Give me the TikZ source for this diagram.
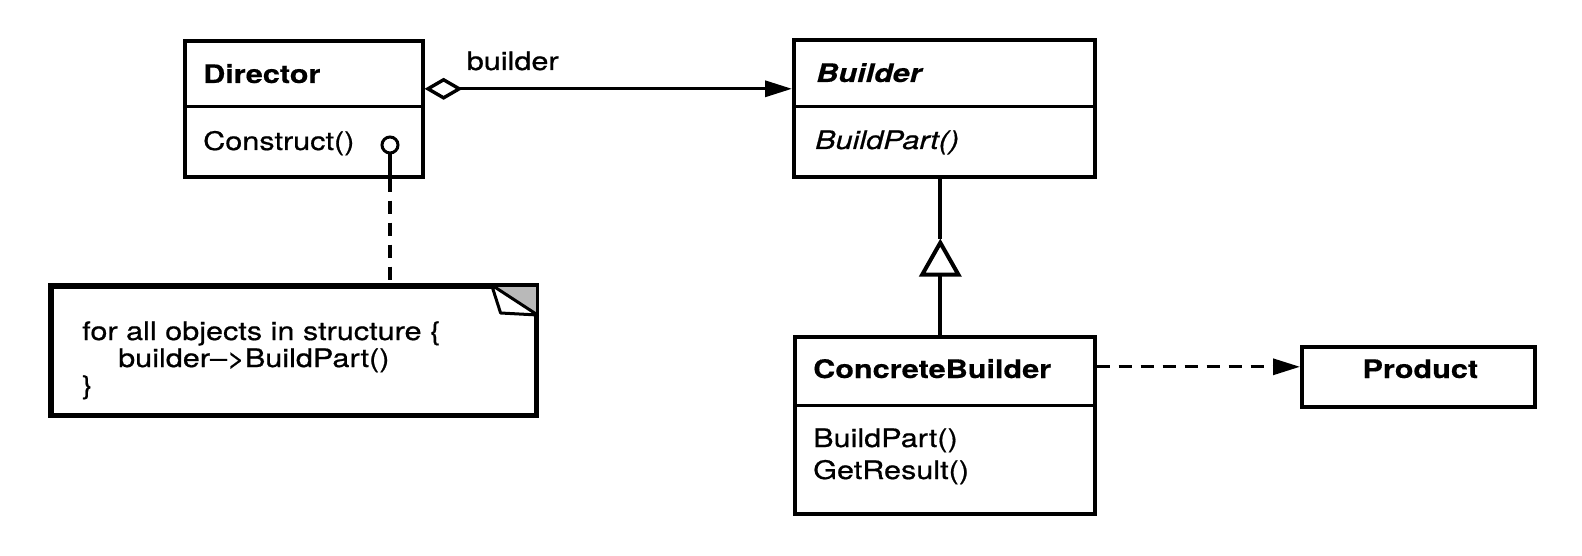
\documentclass[tikz,border=0pt]{standalone}
\usepackage{fontspec}
\setmainfont{TeX Gyre Heros}[FakeStretch=1.2, UprightFeatures={FakeBold=0.7}, ItalicFeatures={FakeBold=0.7}, BoldFeatures={FakeBold=0.4}, BoldItalicFeatures={FakeBold=0.4}]
\usetikzlibrary{arrows.meta,calc}
\begin{document}
\begin{tikzpicture}[x=1pt,y=-1pt,
  every node/.style={font=\fontsize{25.5}{27}\selectfont},
  cls/.style={draw, line width=3.6pt, inner sep=0pt, anchor=north west},
  lbl/.style={inner sep=0pt, anchor=base west},
  conn/.style={line width=3.2pt},
  heavy/.style={line width=4pt},
  dsh/.style={conn, dash pattern=on 13pt off 9pt},
  divider/.style={line width=3pt}
]
\fill[white] (0,0) rectangle (1582,556);
\useasboundingbox (0,0) rectangle (1582,556);

% Director
\node[cls, minimum width=238pt, minimum height=136pt] (dir) at (183,39) {};
\draw[divider] ($(dir.north west)+(0,68)$) -- ($(dir.north east)+(0,68)$);
\node[lbl] (dirname) at ($(dir.north west)+(20,44)$) {\bfseries Director};
\node[lbl] (dirop) at ($(dir.north west)+(20,111)$) {Construct()};
\node[draw, circle, line width=3pt, minimum size=16pt, inner sep=0pt] (lolli) at ($(dir.north west)+(207,106)$) {};

% Builder
\node[cls, minimum width=301pt, minimum height=137pt] (bld) at (792,38) {};
\draw[divider] ($(bld.north west)+(0,69)$) -- ($(bld.north east)+(0,69)$);
\node[lbl] (bldname) at ($(bld.north west)+(24,44)$) {\bfseries\itshape Builder};
\node[lbl] (bldop) at ($(bld.north west)+(23,111)$) {\itshape BuildPart()};

% ConcreteBuilder
\node[cls, minimum width=300pt, minimum height=177pt] (cb) at (793,335) {};
\draw[divider] ($(cb.north west)+(0,70)$) -- ($(cb.north east)+(0,70)$);
\node[lbl] (cbname) at ($(cb.north west)+(20,43)$) {\bfseries ConcreteBuilder};
\node[lbl] (cbop1) at ($(cb.north west)+(20,112)$) {BuildPart()};
\node[lbl] (cbop2) at ($(cb.north west)+(20,144)$) {GetResult()};

% Product
\node[cls, minimum width=233pt, minimum height=60pt] (prod) at (1300,345) {};
\node[inner sep=0pt, anchor=base] (prodname) at ($(prod.north)+(2,33)$) {\bfseries Product};

% Note
\node[cls, minimum width=484pt, minimum height=128pt] (note) at (50,285) {};
\fill[gray!55] ($(note.north east)+(-46,0)$) -- (note.north east) -- ($(note.north east)+(0,30)$) -- cycle;
\draw[line width=3pt, fill=white, line join=round]
  ($(note.north east)+(-46,0)$) -- ($(note.north east)+(-37,28)$) -- ($(note.north east)+(0,30)$) -- cycle;
\draw[line width=3.6pt] (note.north west) rectangle (note.south east);
\node[lbl] (note1) at ($(note.north west)+(32,55)$) {for all objects in structure \{};
\node[lbl] (note2) at ($(note.north west)+(68,82)$) {builder–>BuildPart()};
\node[lbl] (note3) at ($(note.north west)+(32,109)$) {\}};

% aggregation Director -> Builder
\draw[line width=3.4pt, {Diamond[open, length=38pt, width=22pt]}-{Triangle[length=27pt, width=16pt]}]
  ([yshift=20pt]dir.east) -- ([yshift=20pt]dir.east -| bld.west);
\node[lbl] (aggl) at ($(dir.north east)+(42,31)$) {builder};

% inheritance ConcreteBuilder -> Builder
\coordinate (tip) at ($(bld.south)+(-4,60)$);
\draw[heavy] ([xshift=-4pt]bld.south) -- (tip);
\draw[heavy, -{Triangle[open, length=38pt, width=42pt]}] (tip |- cb.north) -- (tip);

% dependency ConcreteBuilder -> Product
\draw[dsh, -{Triangle[length=27pt, width=16pt]}]
  ([yshift=10pt]prod.west -| cb.east) -- ([yshift=10pt]prod.west);

% note anchor
\draw[conn] (lolli.south) -- (lolli.south |- dir.south);
\draw[dsh] (lolli.south |- dir.south) -- (lolli.south |- note.north);
\end{tikzpicture}
\end{document}
